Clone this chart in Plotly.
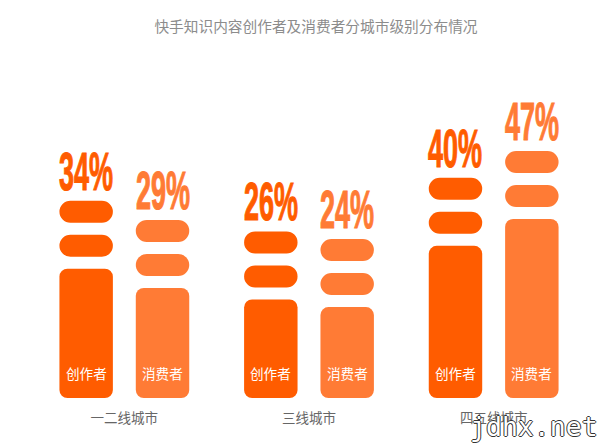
import plotly.graph_objects as go

TITLE = "快手知识内容创作者及消费者分城市级别分布情况"
cities = ["一二线城市", "三线城市", "四五线城市"]
creators = [34, 26, 40]
consumers = [29, 24, 47]
series_names = ["创作者", "消费者"]

CREATOR_COLOR = "#FF5C00"
CONSUMER_COLOR = "#FF7B35"

# the bars do not start at 0% in the original, the axis floor sits lower
FLOOR = -17.5
PILL = 5.75
GAP = 3.13
SLOT_PX = 38.25


def add_stack(fig, values, name, color, group):
    # one solid block and two pills on top, all ending at the value
    top_pill_base = [v - PILL for v in values]
    low_pill_base = [v - 2 * PILL - GAP for v in values]
    block_top = [v - 2 * PILL - 2 * GAP for v in values]

    fig.add_trace(go.Bar(
        x=cities, y=[t - FLOOR for t in block_top], base=FLOOR,
        name=name, offsetgroup=group,
        marker=dict(color=color, cornerradius=8, line_width=0),
    ))
    for base in (low_pill_base, top_pill_base):
        fig.add_trace(go.Bar(
            x=cities, y=[PILL] * len(values), base=base,
            offsetgroup=group, showlegend=False,
            marker=dict(color=color, cornerradius=11, line_width=0),
        ))


fig = go.Figure()
add_stack(fig, creators, series_names[0], CREATOR_COLOR, "a")
add_stack(fig, consumers, series_names[1], CONSUMER_COLOR, "b")

groups = (
    (creators, series_names[0], CREATOR_COLOR, -SLOT_PX),
    (consumers, series_names[1], CONSUMER_COLOR, SLOT_PX),
)
for values, name, color, shift in groups:
    for city, v in zip(cities, values):
        fig.add_annotation(
            x=city, y=v, xref="x", yref="y", text=f"{v}%", showarrow=False,
            xshift=shift, yshift=-2, yanchor="bottom",
            font=dict(family="Liberation Sans", size=54, color=color, weight="bold"),
        )
        fig.add_annotation(
            x=city, y=FLOOR, xref="x", yref="y", text=name, showarrow=False,
            xshift=shift, yshift=25, yanchor="middle",
            font=dict(family="Noto Sans CJK SC", size=13.6, color="white"),
        )

# watermark in the bottom right corner
fig.add_annotation(
    x=(534 - 32) / 554, y=(398 - 426) / 338, xref="paper", yref="paper",
    text="jdhx.net", showarrow=False, xanchor="center", yanchor="middle",
    font=dict(
        family="DejaVu Sans Mono", size=26.5, color="white",
        shadow="1px 0 0 #333, -1px 0 0 #333, 0 1px 0 #333, 0 -1px 0 #333",
    ),
)

fig.update_layout(
    width=602, height=446,
    margin=dict(l=32, r=16, t=60, b=48),
    barmode="group", bargap=0.173, bargroupgap=0.30,
    showlegend=False,
    paper_bgcolor="white", plot_bgcolor="white",
    title=dict(
        text=TITLE, x=316 / 602, xanchor="center", y=1 - 27 / 446, yanchor="middle",
        font=dict(size=14.7, color="#8C8C8C", family="Noto Sans CJK SC"),
    ),
    xaxis=dict(
        range=[-0.5, 2.5],
        showgrid=False, zeroline=False, showline=False, ticks="", ticklen=0,
        ticklabelstandoff=10,
        tickfont=dict(size=13.5, color="#666666", family="Noto Sans CJK SC"),
    ),
    yaxis=dict(range=[FLOOR, 70.75], visible=False),
)

# the % labels use a very condensed poster face in the original, squeeze them
squeeze = """
document.body.style.margin = '0';
document.querySelectorAll('.annotation-text').forEach(function (t) {
  if (t.textContent.indexOf('%') < 0) return;
  t.style.transformBox = 'fill-box';
  t.style.transformOrigin = 'center';
  t.style.transform = 'scaleX(0.5)';
  t.style.stroke = t.style.fill;
  t.style.strokeWidth = '1.2px';
});
"""
fig.write_html("out.html", post_script=squeeze, config=dict(displayModeBar=False))
